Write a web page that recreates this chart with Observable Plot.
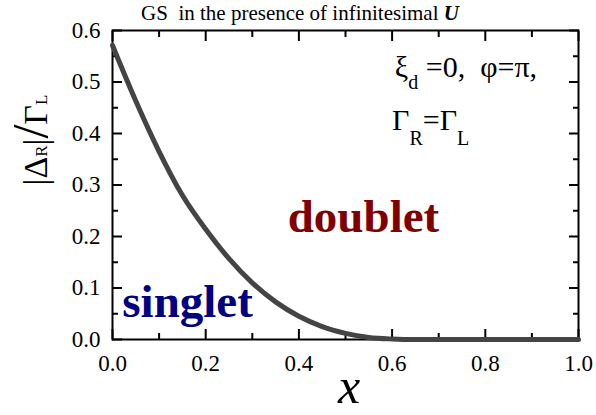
<!DOCTYPE html>
<html>
<head>
<meta charset="utf-8">
<script src="https://cdn.jsdelivr.net/npm/d3@7"></script>
<script src="https://cdn.jsdelivr.net/npm/@observablehq/plot@0.6"></script>
<style>
  html, body { margin: 0; padding: 0; background: #fff; }
  #chart svg { display: block; }
</style>
</head>
<body>
<div id="chart"></div>
<script>
// Phase boundary between singlet and doublet ground states
const xValues = [0.00, 0.05, 0.10, 0.15, 0.20, 0.25, 0.30, 0.35, 0.40, 0.45, 0.50,
                 0.55, 0.60, 0.65, 0.70, 0.75, 0.80, 0.85, 0.90, 0.95, 1.00];
const gapRatio = [0.571, 0.463, 0.365, 0.280, 0.214, 0.157, 0.110, 0.073, 0.045, 0.025, 0.012,
                  0.004, 0.001, 0, 0, 0, 0, 0, 0, 0, 0];

const xMajorTicks = [0, 0.2, 0.4, 0.6, 0.8, 1.0];
const xMinorTicks = [0.1, 0.3, 0.5, 0.7, 0.9];
const yMajorTicks = [0, 0.1, 0.2, 0.3, 0.4, 0.5, 0.6];
const yMinorTicks = [0.05, 0.15, 0.25, 0.35, 0.45, 0.55];

const singletLabel = ["singlet"];
const doubletLabel = ["doublet"];

const boundary = xValues.map((x, i) => ({x, y: gapRatio[i]}));
const fmt = d3.format(".1f");
const serif = '"Liberation Serif", "Times New Roman", serif';

const plot = Plot.plot({
  width: 596,
  height: 415,
  marginLeft: 112,
  marginRight: 18,
  marginTop: 30,
  marginBottom: 76,
  style: {fontFamily: serif, fontSize: "23px", background: "#fff", color: "#000"},
  x: {domain: [0, 1]},
  y: {domain: [0, 0.6]},
  marks: [
    // inward major and minor ticks on all four sides
    Plot.axisX(xMajorTicks, {anchor: "bottom", tickSize: -10, strokeWidth: 2, fill: "none", label: null}),
    Plot.axisX(xMinorTicks, {anchor: "bottom", tickSize: -6, strokeWidth: 2, fill: "none", label: null}),
    Plot.axisX(xMajorTicks, {anchor: "top", tickSize: -10, strokeWidth: 2, fill: "none", label: null}),
    Plot.axisX(xMinorTicks, {anchor: "top", tickSize: -6, strokeWidth: 2, fill: "none", label: null}),
    Plot.axisY(yMajorTicks, {anchor: "left", tickSize: -10, strokeWidth: 2, fill: "none", label: null}),
    Plot.axisY(yMinorTicks, {anchor: "left", tickSize: -6, strokeWidth: 2, fill: "none", label: null}),
    Plot.axisY(yMajorTicks, {anchor: "right", tickSize: -10, strokeWidth: 2, fill: "none", label: null}),
    Plot.axisY(yMinorTicks, {anchor: "right", tickSize: -6, strokeWidth: 2, fill: "none", label: null}),
    // tick labels
    Plot.axisX(xMajorTicks, {anchor: "bottom", tickSize: 0, tickPadding: 15, tickFormat: fmt, label: null}),
    Plot.axisY(yMajorTicks, {anchor: "left", tickSize: 0, tickPadding: 12, tickFormat: fmt, label: null}),
    Plot.frame({stroke: "#000", strokeWidth: 2}),
    Plot.line(boundary, {x: "x", y: "y", stroke: "#444", strokeWidth: 5, curve: "monotone-x"}),
    Plot.text(singletLabel, {x: 0.021, y: 0.043, text: d => d, fill: "#000080", fontSize: 47,
      fontWeight: "bold", textAnchor: "start", lineAnchor: "bottom"}),
    Plot.text(doubletLabel, {x: 0.376, y: 0.208, text: d => d, fill: "#800000", fontSize: 47,
      fontWeight: "bold", textAnchor: "start", lineAnchor: "bottom"})
  ]
});

document.getElementById("chart").appendChild(plot);

const svg = d3.select(plot);
const sx = plot.scale("x"), sy = plot.scale("y");

function addText() {
  return svg.append("text")
    .attr("text-anchor", "start")
    .style("font-family", serif)
    .style("white-space", "pre")
    .attr("xml:space", "preserve");
}

// title
const title = addText()
  .attr("x", 300).attr("y", 20)
  .attr("text-anchor", "middle")
  .style("font-size", "21px");
title.append("tspan").text("GS  in the presence of infinitesimal ");
title.append("tspan").text("U").style("font-weight", "bold").style("font-style", "italic");

// y axis label
const ylab = addText()
  .attr("transform", "translate(47,140) rotate(-90)")
  .attr("text-anchor", "middle")
  .style("font-size", "34px");
ylab.append("tspan").text("|\u0394");
ylab.append("tspan").text("R").style("font-size", "17px");
ylab.append("tspan").text("|");
ylab.append("tspan").text("/").style("font-size", "50px");
ylab.append("tspan").text("\u0393");
ylab.append("tspan").text("L").style("font-size", "17px");

// x axis label
addText()
  .attr("x", sx.apply(0.5) + 4).attr("y", 403)
  .attr("text-anchor", "middle")
  .style("font-size", "50px").style("font-style", "italic")
  .text("x");

// parameter annotation
const ann1 = addText()
  .attr("x", sx.apply(0.607)).attr("y", sy.apply(0.508))
  .style("font-size", "30px");
ann1.append("tspan").text("\u03BE");
ann1.append("tspan").text("d").style("font-size", "20px").attr("dy", 12);
ann1.append("tspan").text(" =0,  \u03C6=\u03C0,").attr("dy", -12);

const ann2 = addText()
  .attr("x", sx.apply(0.601)).attr("y", sy.apply(0.406))
  .style("font-size", "30px");
ann2.append("tspan").text("\u0393");
ann2.append("tspan").text("R").style("font-size", "20px").attr("dy", 15);
ann2.append("tspan").text("=\u0393").attr("dy", -15);
ann2.append("tspan").text("L").style("font-size", "20px").attr("dy", 15);
</script>
</body>
</html>
